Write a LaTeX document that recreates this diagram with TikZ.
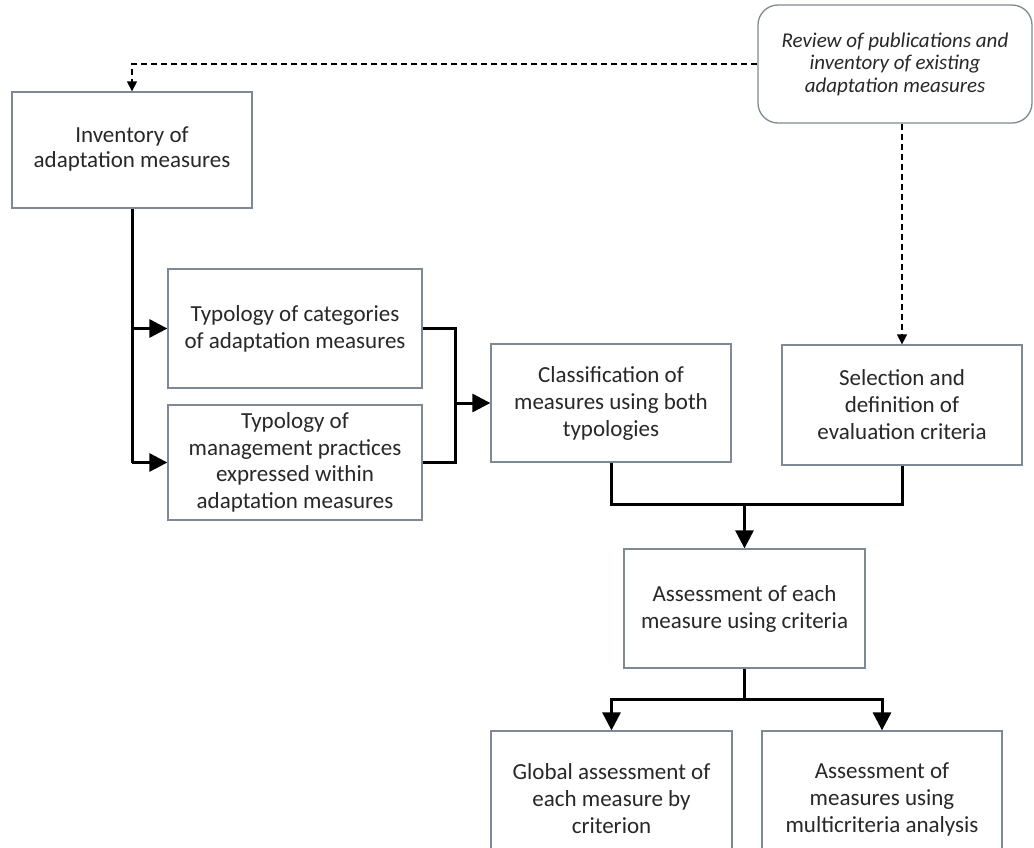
\documentclass[tikz,border=0pt]{standalone}
\usepackage{fontspec}
\setmainfont{Carlito}
\usetikzlibrary{arrows.meta}
\definecolor{boxline}{RGB}{125,138,150}
\definecolor{txt}{RGB}{40,40,40}
\begin{document}
\begin{tikzpicture}[x=1pt,y=-1pt,
  box/.style={draw=boxline,line width=1.3pt,fill=white,rectangle,align=center,
    text=txt,font=\fontsize{23}{27}\selectfont,inner sep=0pt},
  rbox/.style={box,rounded corners=20pt,font=\fontsize{21}{22.5}\selectfont\itshape},
  conn/.style={line width=3pt,black,line join=miter},
  arr/.style={conn,-{Triangle[length=18pt,width=18pt]}},
  darr/.style={line width=1.3pt,black,dash pattern=on 6pt off 4pt,-{Triangle[length=10pt,width=10pt]}}]
\useasboundingbox (0,0) rectangle (1034,847);
\clip (0,0) rectangle (1034,847);
\fill[white] (0,0) rectangle (1034,847);

\node[rbox,minimum width=274pt,minimum height=118pt] (rev) at (895,64)
  {Review of publications and\\inventory of existing\\adaptation measures};
\node[box,minimum width=240pt,minimum height=116pt,font=\fontsize{23}{25}\selectfont] (inv) at (132,150)
  {\raisebox{-4pt}{\begin{tabular}{@{}c@{}}Inventory of\\adaptation measures\end{tabular}}};
\node[box,minimum width=254pt,minimum height=119pt] (t1) at (295,328.5)
  {Typology of categories\\of adaptation measures};
\node[box,minimum width=254pt,minimum height=115pt,font=\fontsize{23}{26.5}\selectfont] (t2) at (295,462.5)
  {Typology of\\management practices\\expressed within\\adaptation measures};
\node[box,minimum width=240pt,minimum height=118pt] (cls) at (611,403)
  {Classification of\\measures using both\\typologies};
\node[box,minimum width=240pt,minimum height=120pt] (sel) at (902,405)
  {Selection and\\definition of\\evaluation criteria};
\node[box,minimum width=241pt,minimum height=119pt] (ass) at (744.5,608.5)
  {Assessment of each\\measure using criteria};
\node[box,minimum width=241pt,minimum height=136pt] (glob) at (611.5,799)
  {Global assessment of\\each measure by\\criterion};
\node[box,minimum width=240pt,minimum height=136pt] (mca) at (882,799)
  {Assessment of\\measures using\\multicriteria analysis};

% dashed connectors
\draw[darr] (rev.west) -| (inv.north);
\draw[darr] (sel.north |- rev.south) -- (sel.north);

% inventory to typologies
\draw[conn] (inv.south) -- (inv.south |- t2.west);
\draw[arr] (inv.south |- t1.west) -- (t1.west);
\draw[arr] (inv.south |- t2.west) -- (t2.west);

% typologies to classification
\coordinate (j1) at (455,403);
\draw[conn] (t1.east) -| (j1) |- (t2.east);
\draw[arr] (j1) -- (cls.west);

% classification and selection to assessment
\coordinate (j2) at (744.5,504);
\draw[conn] (cls.south) |- (j2) -| (sel.south);
\draw[arr] (j2) -- (ass.north);

% assessment to the two final boxes
\coordinate (j3) at (744.5,699);
\draw[conn] (ass.south) -- (j3);
\draw[arr] (j3) -| (glob.north);
\draw[arr] (j3) -| (mca.north);
\end{tikzpicture}
\end{document}
